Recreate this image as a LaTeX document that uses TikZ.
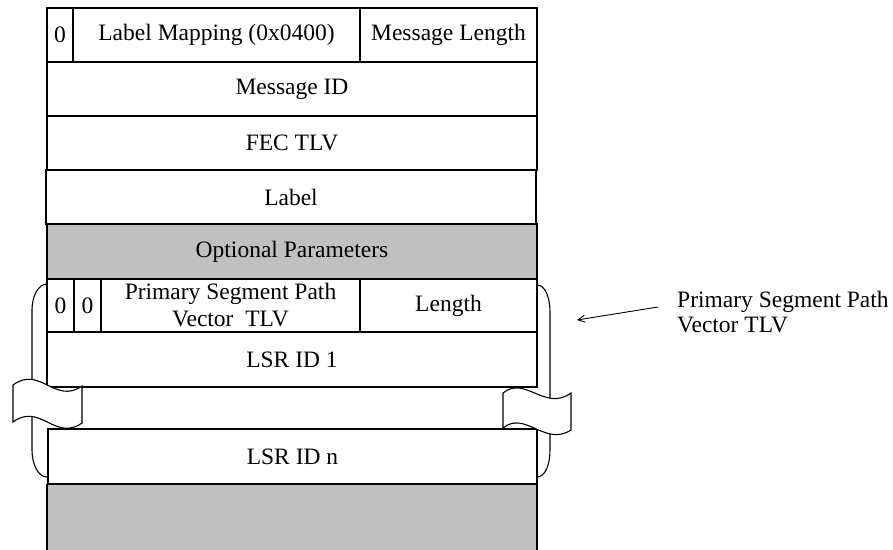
\documentclass[tikz,border=0pt]{standalone}
\usepackage{fontspec}
\setmainfont{Liberation Serif}
\usetikzlibrary{arrows.meta}
\definecolor{cellgray}{RGB}{192,192,192}
\begin{document}
\begin{tikzpicture}[x=1pt,y=-1pt,
  cell/.style={draw, line width=1.1pt, rectangle, inner sep=0pt, outer sep=0pt,
    anchor=north west, align=center, font=\fontsize{23.5}{27}\selectfont},
  grayfill/.style={fill=cellgray},
  brk/.style={draw, line width=1.1pt, fill=white},
  bracketline/.style={draw, line width=1.1pt},
  lbltext/.style={anchor=base west, inner sep=0pt, font=\fontsize{23.5}{26}\selectfont},
  pointer/.style={line width=0.9pt, -{Straight Barb[length=7pt,width=7pt]}}
]
\useasboundingbox (0,0) rectangle (893,549);

% brackets (behind)
\draw[bracketline] (47,284) .. controls (38.7,284) and (32,295.6) .. (32,310)
  -- (32,450) .. controls (32,465) and (38.7,477) .. (47,477);
\draw[bracketline] (537,285) .. controls (545,285) and (550,297) .. (550,312)
  -- (550,450) .. controls (550,465) and (545,477) .. (537,477);

% header row
\node[cell, minimum width=26pt, minimum height=54pt] (z0) at (47,8) {0};
\node[cell, minimum width=287pt, minimum height=54pt] (lm) at (73,8) {Label Mapping (0x0400)};
\node[cell, minimum width=177pt, minimum height=54pt] (ml) at (360,8) {Message Length};
\node[cell, minimum width=490pt, minimum height=54pt] (mid) at (47,62) {Message ID};
\node[cell, minimum width=490pt, minimum height=54pt] (fec) at (47,116) {FEC TLV};
\node[cell, minimum width=490pt, minimum height=54pt] (lab) at (46,170) {Label};
\node[cell, grayfill, minimum width=490pt, minimum height=55pt] (opt) at (47,224) {Optional Parameters};

% TLV
\node[cell, minimum width=27pt, minimum height=53pt] (pz1) at (47,279) {0};
\node[cell, minimum width=27pt, minimum height=53pt] (pz2) at (74,279) {0};
\node[cell, minimum width=259pt, minimum height=53pt] (pspv) at (101,279) {Primary Segment Path\\Vector\ \ TLV};
\node[cell, minimum width=177pt, minimum height=53pt] (len) at (360,279) {Length};
\node[cell, minimum width=490pt, minimum height=55pt] (lsr1) at (47,332) {LSR ID 1};
\node[cell, minimum width=489pt, minimum height=55pt] (lsrn) at (48,429) {LSR ID n};

% bottom gray area
\node[cell, draw=none, grayfill, minimum width=490pt, minimum height=66pt] (rest) at (47,484) {};
\draw[line width=1.1pt] (rest.north west) -- (rest.south west);
\draw[line width=1.1pt] (rest.north east) -- (rest.south east);
\draw[line width=1.1pt] (lsrn.south west) -- (lsrn.south east);

% break symbols
\draw[brk] (13,385) .. controls (40,365) and (55,405) .. (82,386) -- (82,423)
  .. controls (55,442) and (40,402) .. (13,422) -- cycle;
\draw[brk] (503,393) .. controls (525,375) and (545,412) .. (571,393) -- (571,430)
  .. controls (545,447) and (525,410) .. (503,428) -- cycle;

% annotation
\node[lbltext] (note1) at (677,307) {Primary Segment Path};
\node[lbltext] (note2) at (677,332) {Vector TLV};
\coordinate (atail) at (658,307);
\coordinate (atip) at (577,320);
\draw[pointer] (atail) -- (atip);
\end{tikzpicture}
\end{document}
